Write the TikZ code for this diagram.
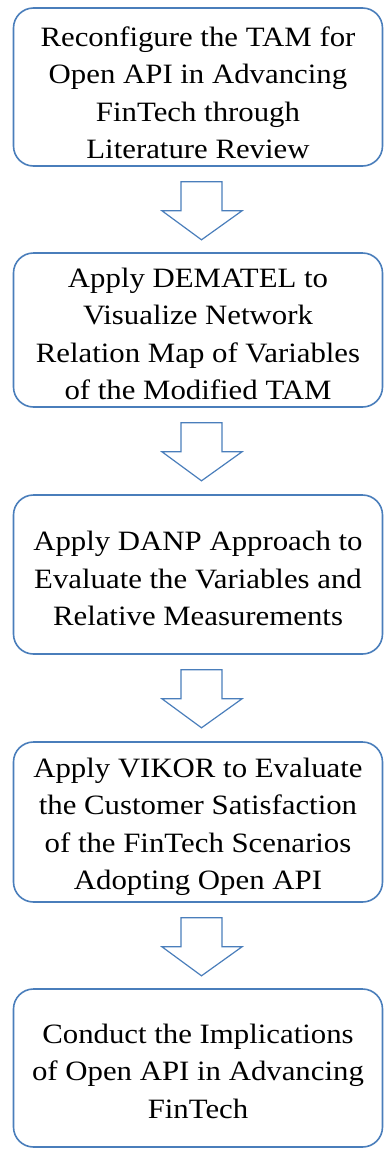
\documentclass[tikz,border=0pt]{standalone}
\usepackage{fontspec}
\setmainfont{Liberation Serif}[FakeStretch=1.1]
\usetikzlibrary{calc}
\definecolor{boxblue}{RGB}{74,126,187}
\tikzset{
  stepbox/.style={draw=boxblue, line width=1.6pt, rounded corners=20pt,
    minimum width=369pt, inner sep=0pt},
  steptext/.style={align=center, inner sep=0pt,
    font=\fontsize{28}{37.5}\selectfont},
  blockarrow/.style={draw=boxblue, line width=1.2pt, fill=white, line join=miter}
}
\newcommand{\blockarr}[1]{%
  \draw[blockarrow] ($(#1.south)+(-17,15)$) -- ++(41,0) -- ++(0,29) -- ++(20,0)
     -- ($(#1.south)+(3.5,73)$) -- ($(#1.south)+(-36,44)$) -- ++(19,0) -- cycle;}
\begin{document}
\begin{tikzpicture}[x=1pt,y=-1pt]
\useasboundingbox (0,0) rectangle (385,1149);
\node[stepbox, minimum height=158pt] (b1) at (198,87) {};
\node[steptext] (t1) at ($(b1.center)+(0,6)$)
  {Reconfigure the TAM for\\Open API in Advancing\\FinTech through\\Literature Review};
\node[stepbox, minimum height=154pt] (b2) at (198,330) {};
\node[steptext] (t2) at ($(b2.center)+(0,4)$)
  {Apply DEMATEL to\\Visualize Network\\Relation Map of Variables\\of the Modified TAM};
\node[stepbox, minimum height=159pt] (b3) at (198,574.5) {};
\node[steptext] (t3) at ($(b3.center)+(0,4)$)
  {Apply DANP Approach to\\Evaluate the Variables and\\Relative Measurements};
\node[stepbox, minimum height=160pt] (b4) at (198,822) {};
\node[steptext] (t4) at ($(b4.center)+(0,5)$)
  {Apply VIKOR to Evaluate\\the Customer Satisfaction\\of the FinTech Scenarios\\Adopting Open API};
\node[stepbox, minimum height=158pt] (b5) at (198,1068) {};
\node[steptext] (t5) at ($(b5.center)+(0,3)$)
  {Conduct the Implications\\of Open API in Advancing\\FinTech};
\blockarr{b1}
\blockarr{b2}
\blockarr{b3}
\blockarr{b4}
\end{tikzpicture}
\end{document}
